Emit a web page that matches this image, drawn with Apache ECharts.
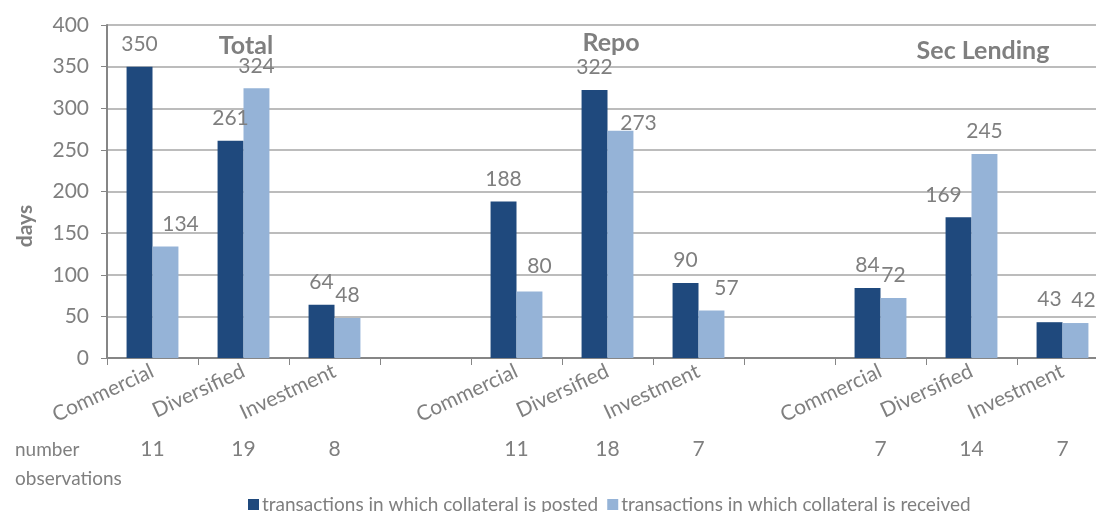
<!DOCTYPE html>
<html>
<head>
<meta charset="utf-8">
<script src="https://cdn.jsdelivr.net/npm/echarts@6/dist/echarts.min.js"></script>
<style>html,body{margin:0;padding:0;background:#fff}#c{width:1096px;height:512px}</style>
</head>
<body>
<div id="c"></div>
<script>
// ---- data ----
const categories = ['Commercial','Diversified','Investment','', 'Commercial','Diversified','Investment','', 'Commercial','Diversified','Investment'];
const postedValues = [350, 261, 64, null, 188, 322, 90, null, 84, 169, 43];
const receivedValues = [134, 324, 48, null, 80, 273, 57, null, 72, 245, 42];
const observationCounts = ['11','19','8','', '11','18','7','', '7','14','7'];
const seriesNames = ['transactions in which collateral is posted', 'transactions in which collateral is received'];
const sectionTitles = ['Total', 'Repo', 'Sec Lending'];
const yTicks = [0, 50, 100, 150, 200, 250, 300, 350, 400];
const yAxisTitle = 'days';
const rowLabel = ['number', 'observations'];

// ---- style ----
const FONT = 'Lato';
const GREY = '#7f7f7f';
const DARK = '#1f497d';
const LIGHT = '#95b3d7';
// label nudges for a few labels (as in the original layout)
const postedLabelOffset = {9: [-15, 0]};
const receivedLabelOffset = {0: [15, 0], 4: [10, -3], 5: [18, 15], 6: [15, 0], 10: [8, 0]};

const chart = echarts.init(document.getElementById('c'), null, {renderer: 'canvas'});

const labelBase = {show: true, position: 'top', distance: 12, color: GREY, fontFamily: FONT, fontSize: 21};

function withOffsets(values, offsets) {
  return values.map((v, i) => {
    const o = offsets[i];
    return o ? {value: v, label: {offset: o}} : v;
  });
}

const titlePos = [{left: 246, top: 33}, {left: 611, top: 30}, {left: 983, top: 38}];

chart.setOption({
  animation: false,
  title: sectionTitles.map((t, i) => ({
    text: t, left: titlePos[i].left, top: titlePos[i].top, textAlign: 'center', padding: 0,
    textStyle: {color: GREY, fontFamily: FONT, fontWeight: 'bold', fontSize: 25}
  })),
  grid: {left: 107, width: 1001, top: 25, height: 333, containLabel: false, outerBoundsMode: 'none'},
  legend: {
    data: seriesNames, top: 490, left: 243, icon: 'rect', itemWidth: 11, itemHeight: 11, itemGap: 9,
    textStyle: {color: GREY, fontFamily: FONT, fontSize: 19, padding: [0, 0, 0, -2]}
  },
  xAxis: [{
    type: 'category', data: categories, position: 'bottom',
    axisLine: {lineStyle: {color: '#868686', width: 2}},
    axisTick: {show: true, length: 7, lineStyle: {color: '#868686'}},
    axisLabel: {color: GREY, fontFamily: FONT, fontSize: 21, rotate: 25, margin: 12, interval: 0}
  }, {
    type: 'category', data: observationCounts, position: 'bottom', offset: 81,
    axisLine: {show: false}, axisTick: {show: false},
    axisLabel: {color: GREY, fontFamily: FONT, fontSize: 21, margin: 0, interval: 0}
  }],
  yAxis: {
    type: 'value', min: yTicks[0], max: yTicks[yTicks.length - 1], interval: yTicks[1] - yTicks[0],
    axisLine: {show: true, lineStyle: {color: '#868686', width: 2}},
    axisTick: {show: true, length: 6, lineStyle: {color: '#868686'}},
    splitLine: {lineStyle: {color: '#a6a6a6', width: 1.5}},
    axisLabel: {color: GREY, fontFamily: FONT, fontSize: 21, margin: 18}
  },
  graphic: [
    {type: 'text', x: 25, y: 226, rotation: Math.PI / 2,
     style: {text: yAxisTitle, fill: GREY, font: 'bold 21px ' + FONT, align: 'center', verticalAlign: 'middle'}},
    {type: 'text', left: 15, top: 440, style: {text: rowLabel[0], fill: GREY, font: '19px ' + FONT}},
    {type: 'text', left: 15, top: 469, style: {text: rowLabel[1], fill: GREY, font: '19px ' + FONT}}
  ],
  series: [{
    name: seriesNames[0], type: 'bar', data: withOffsets(postedValues, postedLabelOffset), barGap: '0%', barCategoryGap: '43%',
    itemStyle: {color: DARK}, label: labelBase
  }, {
    name: seriesNames[1], type: 'bar', data: withOffsets(receivedValues, receivedLabelOffset),
    itemStyle: {color: LIGHT}, label: labelBase
  }]
});
</script>
</body>
</html>
